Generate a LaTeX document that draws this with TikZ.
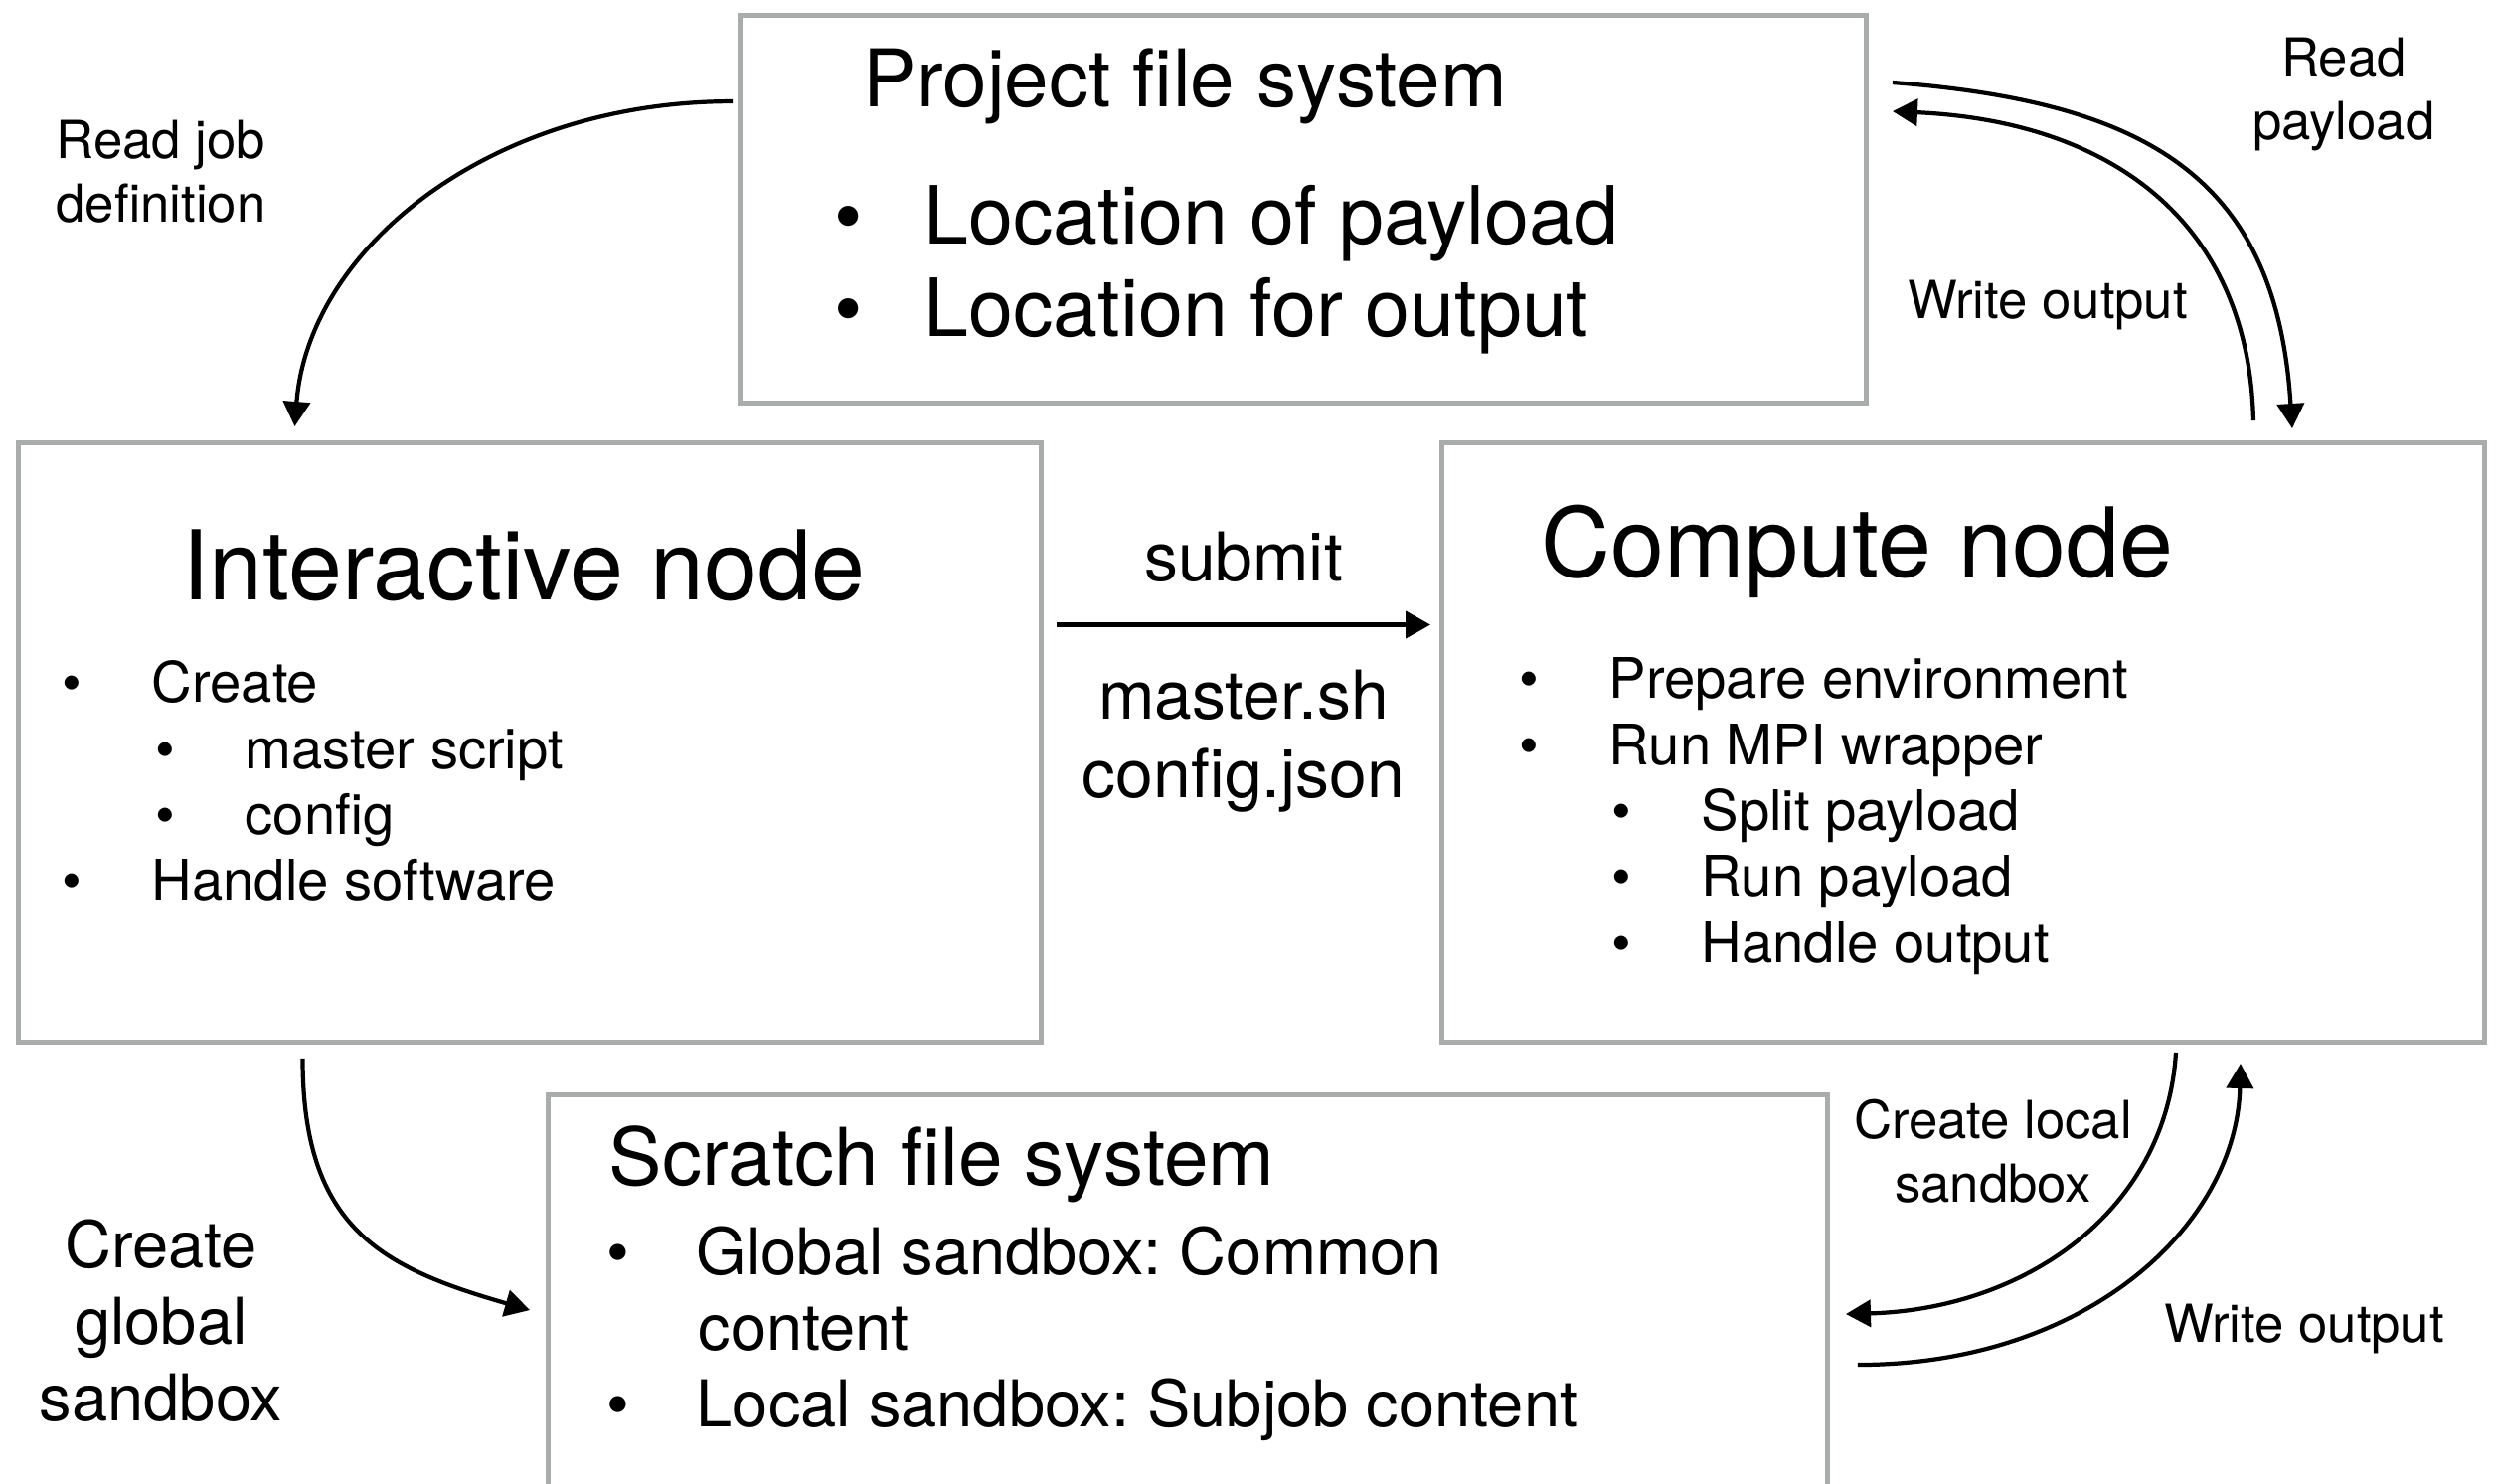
\documentclass[tikz,border=0pt]{standalone}
\usepackage{fontspec}
\setmainfont{TeX Gyre Heros}
\frenchspacing
\usetikzlibrary{arrows.meta, positioning, calc}
\definecolor{boxgray}{RGB}{168,172,171}
\tikzset{
  % --- Khung ----------------------------------------------
  sysbox/.style={draw=boxgray, line width=1.4pt, fill=none,
    inner sep=0pt},
  % --- Chu ------------------------------------------------
  ttl/.style={inner sep=0pt, anchor=base west,
    font=\fontsize{22.8}{26.5}\selectfont},
  bigttl/.style={inner sep=0pt, anchor=base west,
    font=\fontsize{27.6}{32}\selectfont},
  itm/.style={inner sep=0pt, anchor=base west,
    font=\fontsize{16}{18.8}\selectfont},
  pitm/.style={inner sep=0pt, anchor=base west,
    font=\fontsize{23}{26.5}\selectfont},
  sitm/.style={inner sep=0pt, anchor=base west,
    font=\fontsize{18.5}{22}\selectfont},
  elbl/.style={inner sep=0pt, align=center,
    font=\fontsize{15}{18.2}\selectfont},
  slbl/.style={inner sep=0pt, align=center,
    font=\fontsize{19.3}{22.5}\selectfont},
  % --- Mui ten --------------------------------------------
  arr/.style={-{Triangle[length=2.5mm, width=2.7mm]}, line width=1.2pt}
}
\newcommand{\bul}{\makebox[0.9cm][l]{\textbullet}}

\begin{document}
\begin{tikzpicture}[x=1cm, y=1cm]
  \useasboundingbox (0,0) rectangle (25.12,-14.92);

  % ---------- Project file system ----------
  \node[sysbox, minimum width=11.33cm, minimum height=3.90cm] (proj)
    at (13.11,-2.105) {};
  \node[ttl] (p0) at (8.68,-1.07) {Project file system};
  \node[pitm] (p1) at (8.39,-2.45) {\bul Location of payload};
  \node[pitm] (p2) at (8.39,-3.38) {\bul Location for output};

  % ---------- Interactive node ----------
  \node[sysbox, minimum width=10.29cm, minimum height=6.03cm] (inter)
    at (5.33,-7.47) {};
  \node[bigttl] (i0) at (1.83,-6.03) {Interactive node};
  \node[itm] (i1) at (0.62,-7.06) {\bul Create};
  \node[itm] (i2) at (1.56,-7.73) {\bul master script};
  \node[itm] (i3) at (1.56,-8.39) {\bul config};
  \node[itm] (i4) at (0.62,-9.05) {\bul Handle software};

  % ---------- Compute node ----------
  \node[sysbox, minimum width=10.49cm, minimum height=6.03cm] (comp)
    at (19.75,-7.47) {};
  \node[bigttl] (c0) at (15.50,-5.80) {Compute node};
  \node[itm] (c1) at (15.28,-7.02) {\bul Prepare environment};
  \node[itm] (c2) at (15.28,-7.69) {\bul Run MPI wrapper};
  \node[itm] (c3) at (16.21,-8.35) {\bul Split payload};
  \node[itm] (c4) at (16.21,-9.01) {\bul Run payload};
  \node[itm] (c5) at (16.21,-9.68) {\bul Handle output};

  % ---------- Scratch file system ----------
  \node[sysbox, minimum width=12.87cm, minimum height=4.16cm] (scr)
    at (11.95,-13.095) {};
  \node[ttl] (s0) at (6.12,-11.92) {Scratch file system};
  \node[sitm] (s1) at (6.10,-12.82) {\bul Global sandbox: Common};
  \node[sitm] (s2) at (7.02,-13.58) {content};
  \node[sitm] (s3) at (6.10,-14.35) {\bul Local sandbox: Subjob content};

  % ---------- Nhan ----------
  \node[elbl, anchor=north] (rjd) at (1.62,-1.20) {Read job\\definition};
  \node[elbl, anchor=north] (rp) at (23.58,-0.37) {Read\\payload};
  \node[elbl, anchor=base] (wo1) at (20.60,-3.20) {Write output};
  \node[elbl, anchor=north] (cls) at (20.05,-11.05) {Create local\\sandbox};
  \node[elbl, anchor=base] (wo2) at (23.18,-13.50) {Write output};
  \node[elbl, anchor=north, font=\fontsize{18.5}{22}\selectfont] (cgs)
    at (1.62,-12.26) {Create\\global\\sandbox};

  % ---------- Ket noi ----------
  \draw[arr] ([shift={(1.3mm,11.85mm)}]inter.east)
    -- node[slbl, above=4.1mm] (sub) {submit}
       node[slbl, below=4.3mm] (files) {master.sh\\config.json}
    ([shift={(-0.9mm,11.85mm)}]comp.west);
  \draw[arr] ([shift={(-0.05,-0.89)}]proj.north west)
    .. controls +(-2.43,0) and +(0.14,1.80) ..
    ([shift={(-2.365,0.14)}]inter.north);
  \draw[arr] ([shift={(0.24,-0.70)}]proj.north east)
    .. controls +(2.6,-0.2) and +(-0.16,2.5) ..
    ([shift={(-1.96,0.12)}]comp.north east);
  \draw[arr] ([shift={(-2.35,0.20)}]comp.north east)
    .. controls +(-0.05,2.0) and +(2.2,-0.1) ..
    ([shift={(0.24,-0.99)}]proj.north east);
  \draw[arr] ([shift={(-3.13,-0.08)}]comp.south east)
    .. controls +(-0.1,-1.6) and +(1.8,0.05) ..
    ([shift={(0.16,-2.23)}]scr.north east);
  \draw[arr] ([shift={(0.28,-2.74)}]scr.north east)
    .. controls +(2.31,0) and +(-0.04,-1.62) ..
    ([shift={(-2.48,-0.19)}]comp.south east);
  \draw[arr] ([shift={(-2.285,-0.14)}]inter.south)
    .. controls +(0,-1.7) and +(-1.5,0.43) ..
    ([shift={(-0.16,-2.19)}]scr.north west);

\end{tikzpicture}
\end{document}
